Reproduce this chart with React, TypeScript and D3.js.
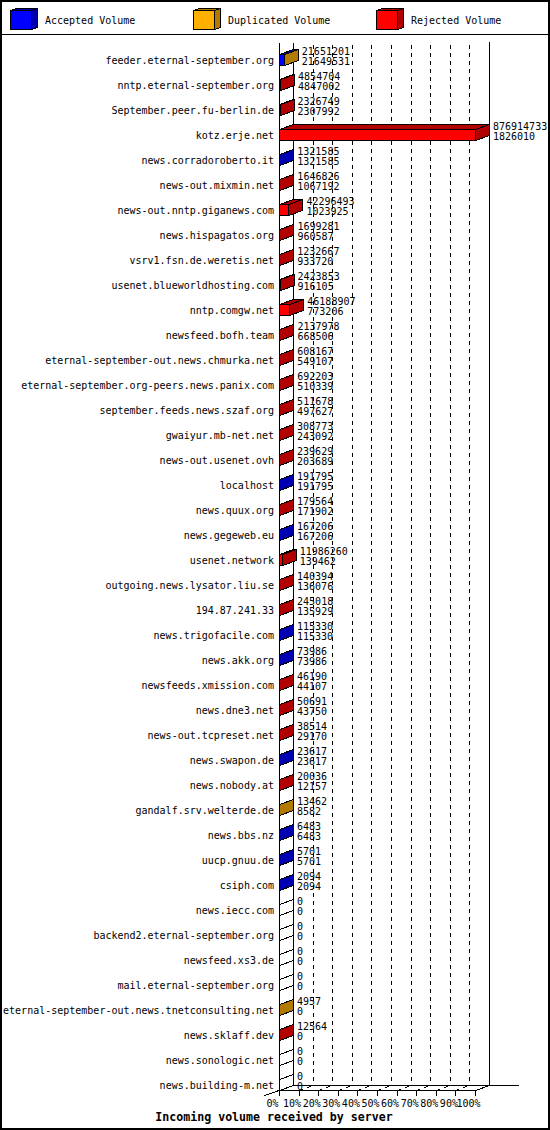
import React from "react";
import * as d3 from "d3";

const servers = [
  "feeder.eternal-september.org",
  "nntp.eternal-september.org",
  "September.peer.fu-berlin.de",
  "kotz.erje.net",
  "news.corradoroberto.it",
  "news-out.mixmin.net",
  "news-out.nntp.giganews.com",
  "news.hispagatos.org",
  "vsrv1.fsn.de.weretis.net",
  "usenet.blueworldhosting.com",
  "nntp.comgw.net",
  "newsfeed.bofh.team",
  "eternal-september-out.news.chmurka.net",
  "eternal-september.org-peers.news.panix.com",
  "september.feeds.news.szaf.org",
  "gwaiyur.mb-net.net",
  "news-out.usenet.ovh",
  "localhost",
  "news.quux.org",
  "news.gegeweb.eu",
  "usenet.network",
  "outgoing.news.lysator.liu.se",
  "194.87.241.33",
  "news.trigofacile.com",
  "news.akk.org",
  "newsfeeds.xmission.com",
  "news.dne3.net",
  "news-out.tcpreset.net",
  "news.swapon.de",
  "news.nobody.at",
  "gandalf.srv.welterde.de",
  "news.bbs.nz",
  "uucp.gnuu.de",
  "csiph.com",
  "news.iecc.com",
  "backend2.eternal-september.org",
  "newsfeed.xs3.de",
  "mail.eternal-september.org",
  "eternal-september-out.news.tnetconsulting.net",
  "news.sklaff.dev",
  "news.sonologic.net",
  "news.building-m.net",
];

// top number (total volume)
const totalValues = [
  21651201, 4854704, 2326749, 876914733, 1321585, 1646826, 42296493, 1699281,
  1232667, 2423853, 46188907, 2137978, 608167, 692203, 511678, 308773, 239629,
  191795, 179564, 167206, 11986260, 140394, 245018, 115330, 73986, 46190, 50691,
  38514, 23617, 20036, 13462, 6483, 5701, 2094, 0, 0, 0, 0, 4957, 12564, 0, 0,
];

// bottom number (accepted volume)
const acceptedValues = [
  21649531, 4847002, 2307992, 1826010, 1321585, 1067192, 1023925, 960587,
  933720, 916105, 773206, 668506, 549107, 510339, 497627, 243092, 203689,
  191795, 171902, 167206, 139462, 136076, 135929, 115330, 73986, 44107, 43750,
  29170, 23617, 12157, 8582, 6483, 5701, 2094, 0, 0, 0, 0, 0, 0, 0, 0,
];

const duplicatedValues = [
  1670, 0, 0, 0, 0, 0, 0, 0, 0, 0, 0, 0, 0, 0, 0, 0, 0, 0, 0, 0, 0, 0, 0, 0, 0,
  0, 0, 0, 0, 0, 4880, 0, 0, 0, 0, 0, 0, 0, 4957, 0, 0, 0,
];

const rejectedValues = [
  0, 7702, 18757, 875088723, 0, 579634, 41272568, 738694, 298947, 1507748,
  45415701, 1469472, 59060, 181864, 14051, 65681, 35940, 0, 7662, 0, 11846798,
  4318, 109089, 0, 0, 2083, 6941, 9344, 0, 7879, 0, 0, 0, 0, 0, 0, 0, 0, 0,
  12564, 0, 0,
];

const seriesNames = ["Accepted Volume", "Duplicated Volume", "Rejected Volume"];
const seriesColors = ["#0000FF", "#FFAF00", "#FF0000"];
const seriesDark = ["#0000B2", "#B27A00", "#B20000"];

const tickPercents = [0, 10, 20, 30, 40, 50, 60, 70, 80, 90, 100];
const tickLabels = tickPercents.map((p) => `${p}%`);

const chartTitle = "Incoming volume received by server";

const W = 550;
const H = 1130;
const FRONT_LEFT = 279;
const FRONT_RIGHT = 475;
const DX = 14;
const DY = 5;
const FLOOR = 1090;
const TOP = 43;
const FONT = "'DejaVu Sans Mono', 'Liberation Mono', monospace";

const px = (v: number) => Math.round(v) + 0.5;
const pts = (a: number[][]) => a.map((p) => `${p[0]},${p[1]}`).join(" ");

export default function App() {
  const maxTotal = d3.max(totalValues) as number;
  const x = d3.scaleLinear().domain([0, maxTotal]).range([FRONT_LEFT, FRONT_RIGHT]);
  const pct = d3.scaleLinear().domain([0, 100]).range([FRONT_LEFT, FRONT_RIGHT]);
  const y = d3
    .scalePoint<string>()
    .domain(servers)
    .range([60, 60 + 25 * (servers.length - 1)]);

  const series = [acceptedValues, duplicatedValues, rejectedValues];

  const bars = servers.map((s, i) => {
    const c = y(s) as number;
    const top = c - 6 + 0.5;
    const bot = c + 5 + 0.5;
    const parts: React.ReactNode[] = [];
    let cum = 0;
    let last = -1;
    series.forEach((arr, k) => {
      const v = arr[i];
      if (v > 0) {
        const x0 = px(x(cum));
        const x1 = px(x(cum + v));
        parts.push(
          <polygon
            key={`f${k}`}
            points={pts([[x0, top], [x1, top], [x1, bot], [x0, bot]])}
            fill={seriesColors[k]}
            stroke="#000"
          />
        );
        parts.push(
          <polygon
            key={`t${k}`}
            points={pts([[x0, top], [x1, top], [x1 + DX, top - DY], [x0 + DX, top - DY]])}
            fill={seriesDark[k]}
            stroke="#000"
          />
        );
        cum += v;
        last = k;
      }
    });
    const xe = px(x(cum));
    parts.push(
      <polygon
        key="side"
        points={pts([[xe, top], [xe + DX, top - DY], [xe + DX, bot - DY], [xe, bot]])}
        fill={last >= 0 ? seriesDark[last] : "#FFFFFF"}
        stroke="#000"
      />
    );
    const tx = x(totalValues[i]) + DX + 4;
    return (
      <g key={s}>
        {parts}
        <text x={274} y={c + 3.5} textAnchor="end" fontSize={10} fontFamily={FONT}>
          {s}
        </text>
        <text x={tx} y={c - 5.5} fontSize={10} fontFamily={FONT}>
          {totalValues[i]}
        </text>
        <text x={tx} y={c + 4.8} fontSize={10} fontFamily={FONT}>
          {acceptedValues[i]}
        </text>
      </g>
    );
  });

  const grid = tickPercents.map((p, k) => {
    const fx = px(pct(p));
    const bx = fx + DX;
    return (
      <g key={p}>
        {p > 0 && p < 100 && (
          <line x1={bx} x2={bx} y1={TOP + 2} y2={FLOOR - DY + 0.5} stroke="#000" strokeDasharray="4,4" />
        )}
        {p > 0 && p < 100 && (
          <line x1={fx} y1={FLOOR + 0.5} x2={bx} y2={FLOOR - DY + 0.5} stroke="#000" strokeDasharray="4,4" />
        )}
        <line x1={fx} x2={fx} y1={FLOOR + 0.5} y2={FLOOR + 5.5} stroke="#000" />
        <text x={pct(p) - 6.5} y={1106.5} textAnchor="middle" fontSize={10} fontFamily={FONT}>
          {tickLabels[k]}
        </text>
      </g>
    );
  });

  const legend = seriesNames.map((n, k) => {
    const x0 = 10 + 183 * k + 0.5;
    const t = 10.5;
    const b = 29.5;
    const w = 21;
    return (
      <g key={n}>
        <polygon points={pts([[x0, t], [x0 + w, t], [x0 + w, b], [x0, b]])} fill={seriesColors[k]} stroke="#000" />
        <polygon points={pts([[x0, t], [x0 + w, t], [x0 + w + 6, t - 2], [x0 + 6, t - 2]])} fill={seriesDark[k]} stroke="#000" />
        <polygon points={pts([[x0 + w, t], [x0 + w + 6, t - 2], [x0 + w + 6, b - 2], [x0 + w, b]])} fill={seriesDark[k]} stroke="#000" />
        <text x={x0 + 34.5} y={23.5} fontSize={10} fontFamily={FONT}>
          {n}
        </text>
      </g>
    );
  });

  const fl = px(FRONT_LEFT);
  const fr = px(FRONT_RIGHT);
  const bl = fl + DX;
  const br = fr + DX;
  const ff = FLOOR + 0.5;
  const bf = FLOOR - DY + 0.5;

  return (
    <div style={{ position: "absolute", left: 0, top: 0 }}>
      <svg width={W} height={H} viewBox={`0 0 ${W} ${H}`} style={{ display: "block", background: "#fff" }} shapeRendering="crispEdges">
        <rect x={0} y={0} width={W} height={H} fill="#fff" />
        {legend}
        <line x1={0} x2={W} y1={34.5} y2={34.5} stroke="#000" />
        {/* walls */}
        <line x1={fl} x2={fl} y1={TOP} y2={ff} stroke="#000" />
        <line x1={bl} x2={bl} y1={TOP} y2={bf} stroke="#000" />
        <line x1={br} x2={br} y1={TOP - 1} y2={bf} stroke="#000" />
        <line x1={bl} x2={519} y1={bf} y2={bf} stroke="#000" />
        <line x1={fl} x2={fr} y1={ff} y2={ff} stroke="#000" />
        <line x1={fr} y1={ff} x2={br} y2={bf} stroke="#000" />
        <line x1={fl - 15} y1={ff + 5} x2={bl} y2={bf} stroke="#000" />
        {grid}
        {bars}
        <text x={274} y={1121} textAnchor="middle" fontSize={11.6} fontWeight="bold" fontFamily={FONT}>
          {chartTitle}
        </text>
        <rect x={1} y={1} width={W - 2} height={H - 2} fill="none" stroke="#000" strokeWidth={2} />
      </svg>
    </div>
  );
}
